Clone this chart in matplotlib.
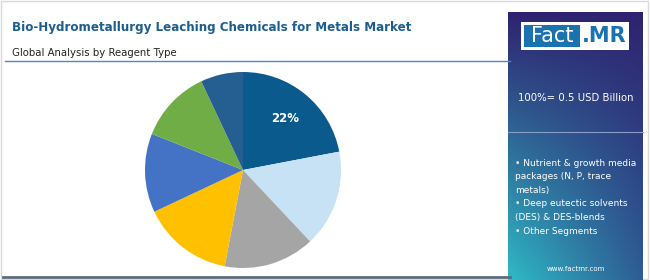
import numpy as np
import matplotlib.pyplot as plt
from matplotlib.patches import Rectangle
from matplotlib.colors import to_rgb

title = "Bio-Hydrometallurgy Leaching Chemicals for Metals Market"
subtitle = "Global Analysis by Reagent Type"
shares = [22, 16, 15, 15, 13, 12, 7]
colors = ["#0b5a8e", "#c6e2f4", "#a5a5a5", "#ffc000", "#4472c4", "#70ad47", "#255e91"]
total_text = "100%= 0.5 USD Billion"
bullets = ["\u2022 Nutrient & growth media", "packages (N, P, trace", "metals)",
           "\u2022 Deep eutectic solvents", "(DES) & DES-blends", "\u2022 Other Segments"]

W, H = 650, 280
fig = plt.figure(figsize=(W / 100, H / 100), dpi=100)
fig.patch.set_facecolor("white")

# background axes in pixel coordinates
bg = fig.add_axes([0, 0, 1, 1])
bg.set_xlim(0, W)
bg.set_ylim(H, 0)
bg.axis("off")
bg.add_patch(Rectangle((1, 1), W - 3, H - 2, fill=False, ec="#d9d9d9", lw=1))

bg.text(12, 27, title, fontsize=8.6, fontweight="bold", color="#1b5e8f", va="center")
bg.text(12, 53, subtitle, fontsize=7.3, color="#222222", va="center")
bg.plot([5, 510], [61, 61], color="#4a8cc2", lw=1)
bg.plot([3, 510], [277, 277], color="#5d6b80", lw=2)

# gradient panel
x0, x1, y0, y1 = 508, 643, 12, 280
nx, ny = 60, 120
xx, yy = np.meshgrid(np.linspace(0, 1, nx), np.linspace(0, 1, ny))
top = np.array(to_rgb("#2e2370"))
bl = np.array(to_rgb("#2fbac5"))
br = np.array(to_rgb("#2e5c94"))
v = yy[..., None]
h = xx[..., None]
bottom = bl * (1 - h) + br * h
img = top * (1 - v) + bottom * v
bg.imshow(img, extent=[x0, x1, y1, y0], aspect="auto", zorder=1)

# logo
bg.add_patch(Rectangle((521, 22), 108, 28, fc="white", ec="none", zorder=2))
bg.add_patch(Rectangle((524, 25), 56, 22, fc="#1a72b0", ec="none", zorder=3))
bg.text(552, 36.5, "Fact", fontsize=15, color="white", ha="center", va="center", zorder=4)
bg.text(604, 36.5, ".MR", fontsize=15, color="#1a72b0", fontweight="bold",
        ha="center", va="center", zorder=4)

bg.text(576, 98, total_text, fontsize=7.3, color="white", ha="center", va="center", zorder=4)
bg.plot([x0, x1], [132, 132], color="#8a9cc8", lw=0.8, zorder=4)
for i, line in enumerate(bullets):
    bg.text(515, 163 + i * 13.6, line, fontsize=6.5, color="white", va="center", zorder=4)
bg.text(576, 269, "www.factmr.com", fontsize=5, color="white", ha="center", va="center", zorder=4)

# pie
cx, cy, r = 243, 170, 98
ax = fig.add_axes([(cx - r) / W, (H - cy - r) / H, 2 * r / W, 2 * r / H])
wedges, texts = ax.pie(shares, colors=colors, startangle=90, counterclock=False,
                       labels=["22%"] + [""] * (len(shares) - 1), labeldistance=0.68,
                       wedgeprops=dict(lw=0))
texts[0].set_color("white")
texts[0].set_fontweight("bold")
texts[0].set_fontsize(8.5)
texts[0].set_ha("center")
ax.set_xlim(-1, 1)
ax.set_ylim(-1, 1)
ax.set_aspect("equal")

fig.savefig("out.png", dpi=100)
